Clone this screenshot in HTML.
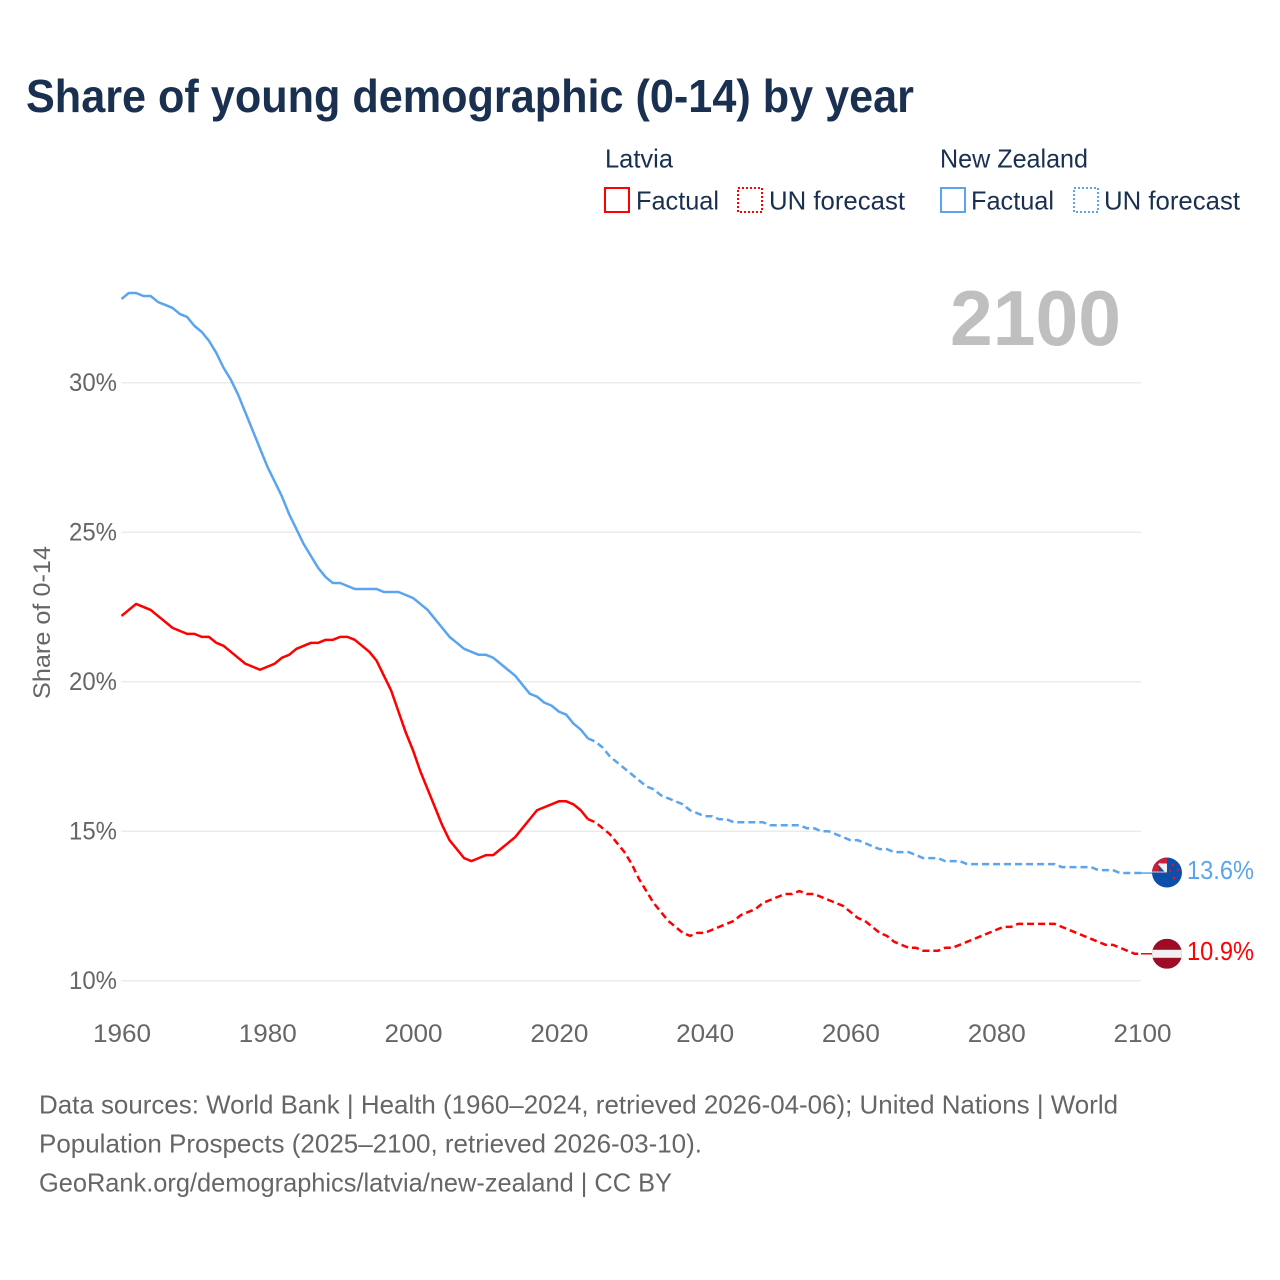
<!DOCTYPE html>
<html lang="en">
<head>
<meta charset="utf-8">
<title>Share of young demographic (0-14) by year</title>
<style>
html,body{margin:0;padding:0;background:#fff;}
svg{display:block;font-family:"Liberation Sans",sans-serif;}
</style>
</head>
<body>
<svg id="chart" xmlns="http://www.w3.org/2000/svg" width="1280" height="1280" viewBox="0 0 1280 1280">
  <defs>
    <clipPath id="flag-clip"><circle cx="0" cy="0" r="15"></circle></clipPath>
    <clipPath id="uj-clip"><rect x="-15" y="-15" width="15" height="15"></rect></clipPath>
  </defs>
  <rect width="1280" height="1280" fill="#fff"></rect>
  <text x="26" y="112" font-size="46" font-weight="700" fill="#1a3050" textLength="888" lengthAdjust="spacingAndGlyphs">Share of young demographic (0-14) by year</text>

  <g font-size="26" fill="#1a3050">
    <text x="605" y="167.5" textLength="68" lengthAdjust="spacingAndGlyphs">Latvia</text>
    <text x="940" y="167.5" textLength="148" lengthAdjust="spacingAndGlyphs">New Zealand</text>
    <rect x="605" y="188" width="24" height="24" fill="none" stroke="#ff0000" stroke-width="2"></rect>
    <text x="636" y="209.5" textLength="83" lengthAdjust="spacingAndGlyphs">Factual</text>
    <rect x="738" y="188" width="24" height="24" fill="none" stroke="#ff0000" stroke-width="2" stroke-dasharray="2 2"></rect>
    <text x="769" y="209.5" textLength="136" lengthAdjust="spacingAndGlyphs">UN forecast</text>
    <rect x="941" y="188" width="24" height="24" fill="none" stroke="#5ba4ee" stroke-width="2"></rect>
    <text x="971" y="209.5" textLength="83" lengthAdjust="spacingAndGlyphs">Factual</text>
    <rect x="1074" y="188" width="24" height="24" fill="none" stroke="#5ba4ee" stroke-width="2" stroke-dasharray="2 2"></rect>
    <text x="1104" y="209.5" textLength="136" lengthAdjust="spacingAndGlyphs">UN forecast</text>
  </g>

  <text x="950" y="345" font-size="78" font-weight="700" fill="#bfbfbf" textLength="171" lengthAdjust="spacingAndGlyphs">2100</text>
  <text transform="translate(50,699) rotate(-90)" font-size="24" fill="#666" textLength="153" lengthAdjust="spacingAndGlyphs">Share of 0-14</text>

  <g id="grid"></g>
  <g id="y-ticks" font-size="25" fill="#666"></g>
  <g id="x-ticks" font-size="25" fill="#666"></g>
  <g id="series"></g>

  <g id="flag-nz">
    <g clip-path="url(#flag-clip)">
      <rect x="-15" y="-15" width="30" height="30" fill="#0b4fa8"></rect>
      <rect x="-15" y="-15" width="15" height="15" fill="#c8203c"></rect>
      <g clip-path="url(#uj-clip)">
        <path d="M-7,-9 L0,-9 L0,0 Z" fill="#f0f0f0"></path>
        <path d="M-8,-9 L-8,-1 L0,-1 Z" fill="#0b4fa8"></path>
        <path d="M-8,-9 L0,0" stroke="#f0f0f0" stroke-width="2.5" fill="none"></path>
        <rect x="-15" y="-1" width="15" height="1" fill="#d8d8d8"></rect>
      </g>
      <circle cx="6" cy="-7.5" r="1.3" fill="#d8143a"></circle>
      <circle cx="11" cy="-2.5" r="1.3" fill="#d8143a"></circle>
      <circle cx="3" cy="-1.5" r="1.3" fill="#d8143a"></circle>
      <circle cx="7" cy="5.5" r="1.4" fill="#d8143a"></circle>
    </g>
  </g>
  <g id="flag-lv">
    <g clip-path="url(#flag-clip)">
      <rect x="-15" y="-15" width="30" height="30" fill="#9e0b26"></rect>
      <rect x="-15" y="-4" width="30" height="8" fill="#f0f0f0"></rect>
    </g>
  </g>
  <text id="value-nz" x="1187" font-size="26" fill="#5ba4ee" textLength="67" lengthAdjust="spacingAndGlyphs"></text>
  <text id="value-lv" x="1187" font-size="26" fill="#ff0000" textLength="67" lengthAdjust="spacingAndGlyphs"></text>

  <g font-size="26" fill="#666">
    <text x="39" y="1113.5" textLength="1079" lengthAdjust="spacingAndGlyphs">Data sources: World Bank | Health (1960–2024, retrieved 2026-04-06); United Nations | World</text>
    <text x="39" y="1152.5" textLength="663" lengthAdjust="spacingAndGlyphs">Population Prospects (2025–2100, retrieved 2026-03-10).</text>
    <text x="39" y="1191.5" textLength="633" lengthAdjust="spacingAndGlyphs">GeoRank.org/demographics/latvia/new-zealand | CC BY</text>
  </g>
</svg>
<script>
const firstYear = 1960;
const lastFactualYear = 2024;
const yTickValues = [10, 15, 20, 25, 30];
const xTickValues = [1960, 1980, 2000, 2020, 2040, 2060, 2080, 2100];
const latviaValues = [
22.2,22.4,22.6,22.5,22.4,22.2,22.0,21.8,21.7,21.6,
21.6,21.5,21.5,21.3,21.2,21.0,20.8,20.6,20.5,20.4,
20.5,20.6,20.8,20.9,21.1,21.2,21.3,21.3,21.4,21.4,
21.5,21.5,21.4,21.2,21.0,20.7,20.2,19.7,19.0,18.3,
17.7,17.0,16.4,15.8,15.2,14.7,14.4,14.1,14.0,14.1,
14.2,14.2,14.4,14.6,14.8,15.1,15.4,15.7,15.8,15.9,
16.0,16.0,15.9,15.7,15.4,15.3,15.1,14.9,14.6,14.3,
13.9,13.4,13.0,12.6,12.3,12.0,11.8,11.6,11.5,11.6,
11.6,11.7,11.8,11.9,12.0,12.2,12.3,12.4,12.6,12.7,
12.8,12.9,12.9,13.0,12.9,12.9,12.8,12.7,12.6,12.5,
12.3,12.1,12.0,11.8,11.6,11.5,11.3,11.2,11.1,11.1,
11.0,11.0,11.0,11.1,11.1,11.2,11.3,11.4,11.5,11.6,
11.7,11.8,11.8,11.9,11.9,11.9,11.9,11.9,11.9,11.8,
11.7,11.6,11.5,11.4,11.3,11.2,11.2,11.1,11.0,10.9,10.9];
const newZealandValues = [
32.8,33.0,33.0,32.9,32.9,32.7,32.6,32.5,32.3,32.2,
31.9,31.7,31.4,31.0,30.5,30.1,29.6,29.0,28.4,27.8,
27.2,26.7,26.2,25.6,25.1,24.6,24.2,23.8,23.5,23.3,
23.3,23.2,23.1,23.1,23.1,23.1,23.0,23.0,23.0,22.9,
22.8,22.6,22.4,22.1,21.8,21.5,21.3,21.1,21.0,20.9,
20.9,20.8,20.6,20.4,20.2,19.9,19.6,19.5,19.3,19.2,
19.0,18.9,18.6,18.4,18.1,18.0,17.8,17.5,17.3,17.1,
16.9,16.7,16.5,16.4,16.2,16.1,16.0,15.9,15.7,15.6,
15.5,15.5,15.4,15.4,15.3,15.3,15.3,15.3,15.3,15.2,
15.2,15.2,15.2,15.2,15.1,15.1,15.0,15.0,14.9,14.8,
14.7,14.7,14.6,14.5,14.4,14.4,14.3,14.3,14.3,14.2,
14.1,14.1,14.1,14.0,14.0,14.0,13.9,13.9,13.9,13.9,
13.9,13.9,13.9,13.9,13.9,13.9,13.9,13.9,13.9,13.8,
13.8,13.8,13.8,13.8,13.7,13.7,13.7,13.6,13.6,13.6,13.6];

const SVG_NS = 'http://www.w3.org/2000/svg';
function xScale(year) { return 121.5 + (year - 1960) * (1142 - 121.5) / 140; }
function yScale(value) { return 980.7 - (value - 10) * (980.7 - 382.7) / 20; }
function pathFor(values, fromYear, toYear) {
  let d = '';
  for (let y = fromYear; y <= toYear; y++) {
    const v = values[y - firstYear];
    d += (d ? 'L' : 'M') + xScale(y).toFixed(2) + ',' + yScale(v).toFixed(2);
  }
  return d;
}

const grid = document.getElementById('grid');
const yTicks = document.getElementById('y-ticks');
yTickValues.forEach(function (v) {
  const line = document.createElementNS(SVG_NS, 'line');
  
  
  line.setAttribute('x1', xScale(1960));
  line.setAttribute('x2', xScale(2100) - 1);
  line.setAttribute('y1', yScale(v));
  line.setAttribute('y2', yScale(v));
  line.setAttribute('stroke', '#ebebeb');
  line.setAttribute('stroke-width', '1.5');
  grid.appendChild(line);

  const label = document.createElementNS(SVG_NS, 'text');
  
  
  label.setAttribute('x', 69);
  label.setAttribute('y', yScale(v) + 8.5);
  label.setAttribute('textLength', 48);
  label.setAttribute('lengthAdjust', 'spacingAndGlyphs');
  label.textContent = v + '%';
  yTicks.appendChild(label);
});

const xTicks = document.getElementById('x-ticks');
xTickValues.forEach(function (year) {
  const label = document.createElementNS(SVG_NS, 'text');
  
  
  label.setAttribute('x', xScale(year) - 28.5);
  label.setAttribute('y', 1042);
  label.setAttribute('textLength', 58);
  label.setAttribute('lengthAdjust', 'spacingAndGlyphs');
  label.textContent = year;
  xTicks.appendChild(label);
});

const series = document.getElementById('series');
function addLine(name, values, color, fromYear, toYear, dashed) {
  const p = document.createElementNS(SVG_NS, 'path');
  
  
  p.setAttribute('d', pathFor(values, fromYear, toYear));
  p.setAttribute('fill', 'none');
  p.setAttribute('stroke', color);
  p.setAttribute('stroke-width', '2.5');
  p.setAttribute('stroke-linejoin', 'round');
  if (dashed) { p.setAttribute('stroke-dasharray', '7 4'); }
  series.appendChild(p);
}
addLine('new-zealand-factual-line', newZealandValues, '#5ba4ee', 1960, lastFactualYear, false);
addLine('new-zealand-forecast-line', newZealandValues, '#5ba4ee', lastFactualYear, 2100, true);
addLine('latvia-factual-line', latviaValues, '#ff0000', 1960, lastFactualYear, false);
addLine('latvia-forecast-line', latviaValues, '#ff0000', lastFactualYear, 2100, true);

const nzEnd = newZealandValues[newZealandValues.length - 1];
const lvEnd = latviaValues[latviaValues.length - 1];

function addConnector(name, value, color) {
  const c = document.createElementNS(SVG_NS, 'line');
  
  
  c.setAttribute('x1', xScale(2100) - 1);
  c.setAttribute('x2', 1153);
  c.setAttribute('y1', yScale(value));
  c.setAttribute('y2', yScale(value));
  c.setAttribute('stroke', color);
  c.setAttribute('stroke-width', '1.5');
  series.appendChild(c);
}
addConnector('new-zealand-end-connector', nzEnd, '#5ba4ee');
addConnector('latvia-end-connector', lvEnd, '#ff0000');

document.getElementById('flag-nz').setAttribute('transform', 'translate(1167,' + (yScale(nzEnd) - 0.5) + ')');
document.getElementById('flag-lv').setAttribute('transform', 'translate(1167,' + yScale(lvEnd) + ')');
const nzLabel = document.getElementById('value-nz');
nzLabel.setAttribute('y', yScale(nzEnd) + 6);
nzLabel.textContent = nzEnd.toFixed(1) + '%';
const lvLabel = document.getElementById('value-lv');
lvLabel.setAttribute('y', yScale(lvEnd) + 6);
lvLabel.textContent = lvEnd.toFixed(1) + '%';
</script>
</body>
</html>
